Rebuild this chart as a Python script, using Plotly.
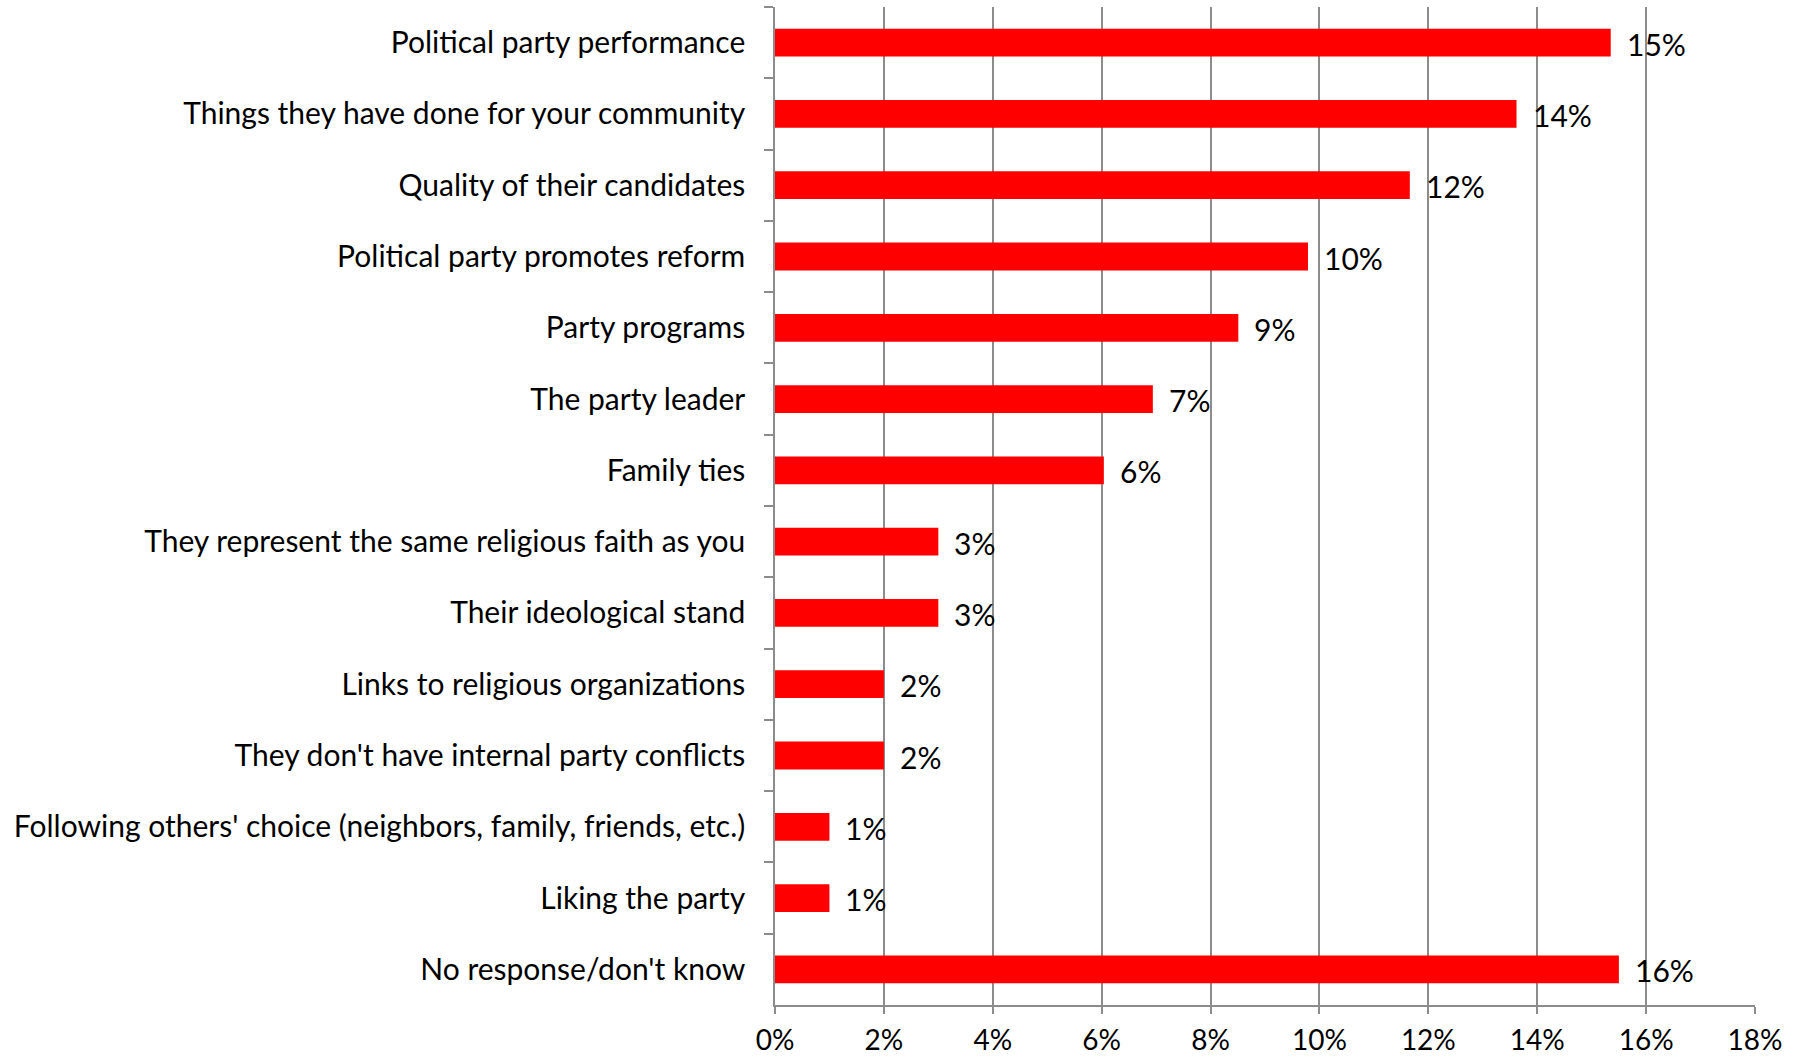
import plotly.graph_objects as go

categories = [
    "Political party performance",
    "Things they have done for your community",
    "Quality of their candidates",
    "Political party promotes reform",
    "Party programs",
    "The party leader",
    "Family ties",
    "They represent the same religious faith as you",
    "Their ideological stand",
    "Links to religious organizations",
    "They don't have internal party conflicts",
    "Following others' choice (neighbors, family, friends, etc.)",
    "Liking the party",
    "No response/don't know",
]
values = [15.35, 13.62, 11.66, 9.79, 8.51, 6.94, 6.04, 3.0, 3.0, 2.0, 2.0, 1.0, 1.0, 15.5]
value_labels = ["15%", "14%", "12%", "10%", "9%", "7%", "6%", "3%", "3%", "2%", "2%", "1%", "1%", "16%"]
x_tickvals = [0, 2, 4, 6, 8, 10, 12, 14, 16, 18]
x_ticktext = ["0%", "2%", "4%", "6%", "8%", "10%", "12%", "14%", "16%", "18%"]

FONT = "Lato"
FSIZE = 30
GRID = "#8c8c8c"

fig = go.Figure()
fig.add_trace(go.Bar(
    x=values, y=categories, orientation="h",
    marker=dict(color="#ff0000", line=dict(width=0)),
    width=0.39,
    hoverinfo="x+y",
))

for v, c, t in zip(values, categories, value_labels):
    fig.add_annotation(x=v, y=c, text=t, showarrow=False, xanchor="left",
                       yanchor="middle", xshift=14, yshift=-1,
                       font=dict(family=FONT, size=FSIZE, color="black"))

fig.update_layout(
    width=1816, height=1061,
    margin=dict(l=775, r=61, t=7, b=56, autoexpand=False),
    paper_bgcolor="white", plot_bgcolor="white",
    showlegend=False,
    font=dict(family=FONT, size=FSIZE, color="black"),
    xaxis=dict(
        range=[0, 18], tickvals=x_tickvals, ticktext=x_ticktext,
        showgrid=True, gridcolor=GRID, gridwidth=1.5,
        showline=True, linecolor=GRID, linewidth=1.5,
        ticks="outside", ticklen=7, tickcolor=GRID, tickwidth=1.5,
        zeroline=False, fixedrange=True, automargin=False,
        tickfont=dict(family=FONT, size=28, color="black"),
        ticklabelstandoff=3,
    ),
    yaxis=dict(
        autorange="reversed", type="category", automargin=False,
        showgrid=False, showline=True, linecolor=GRID, linewidth=1.5,
        ticks="outside", ticklen=9, tickcolor=GRID, tickwidth=1.5,
        tickson="boundaries",
        tickfont=dict(family=FONT, size=FSIZE, color="black"),
        ticklabelstandoff=22,
    ),
)

fig.write_html("out.html", config={"displayModeBar": False},
               post_script="document.body.style.margin='0';")
